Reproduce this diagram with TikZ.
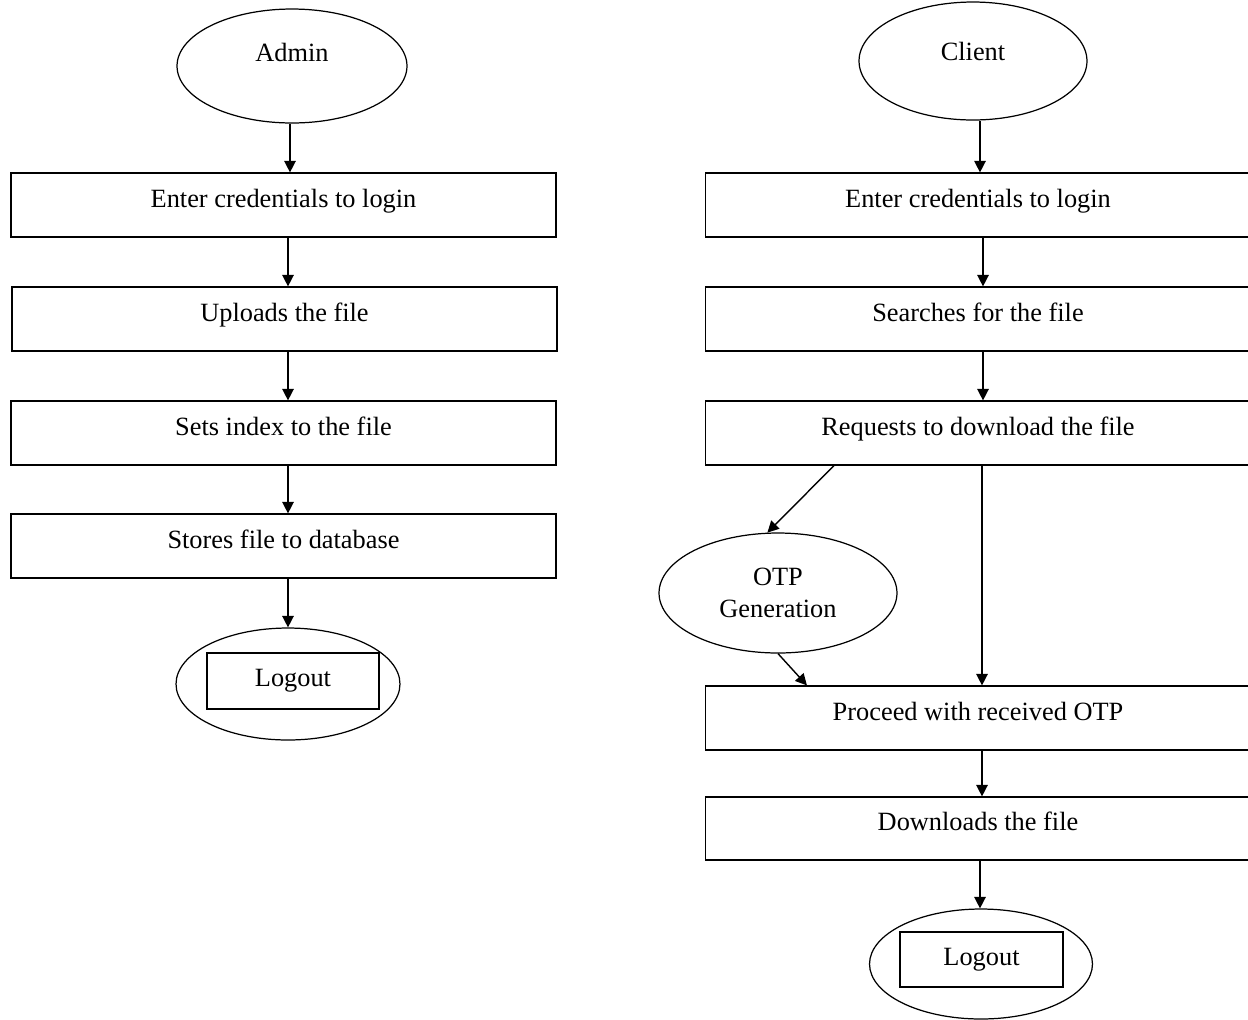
\documentclass[tikz,border=0pt]{standalone}
\usepackage{fontspec}
\setmainfont{Liberation Serif}
\usetikzlibrary{shapes.geometric,arrows.meta,calc}
\begin{document}
\begin{tikzpicture}[x=0.02cm,y=-0.02cm,
  every node/.style={font=\fontsize{15}{18}\selectfont, line width=0.7pt},
  stepbox/.style={draw, rectangle, minimum width=10.9cm, minimum height=1.28cm, inner sep=0pt, text height=14.7pt, text depth=12.3pt},
  ell/.style={draw, ellipse, inner sep=0pt, align=center},
  logbox/.style={draw, rectangle, inner sep=0pt, text height=16.9pt, text depth=10.1pt},
  arr/.style={-{Triangle[length=6.5pt,width=6.5pt]}, line width=0.8pt}]
\useasboundingbox (0,0) rectangle (1248,1019);
\clip (0,0) rectangle (1248,1019);
\fill[white] (0,0) rectangle (1248,1019);
% left column
\node[ell, minimum width=4.6cm, minimum height=2.28cm, text height=9pt, text depth=14pt] (admin) at (292,66) {Admin};
\node[stepbox] (b1) at (283.5,205) {Enter credentials to login};
\node[stepbox] (b2) at (284.5,319) {Uploads the file};
\node[stepbox] (b3) at (283.5,433) {Sets index to the file};
\node[stepbox] (b4) at (283.5,546) {Stores file to database};
\node[ell, minimum width=4.48cm, minimum height=2.24cm] (lo1) at (288,684) {};
\node[logbox, minimum width=3.44cm, minimum height=1.12cm] (lo1t) at (293,681) {Logout};
\coordinate (lx) at (288,0);
\draw[arr] (admin.south -| 290,0) -- (b1.north -| 290,0);
\draw[arr] (b1.south -| lx) -- (b2.north -| lx);
\draw[arr] (b2.south -| lx) -- (b3.north -| lx);
\draw[arr] (b3.south -| lx) -- (b4.north -| lx);
\draw[arr] (b4.south -| lx) -- (lo1.north -| lx);
% right column
\node[ell, minimum width=4.56cm, minimum height=2.36cm, text height=8pt, text depth=9pt] (client) at (973,61) {Client};
\node[stepbox] (r1) at (978,205) {Enter credentials to login};
\node[stepbox] (r2) at (978,319) {Searches for the file};
\node[stepbox] (r3) at (978,433) {Requests to download the file};
\node[ell, minimum width=4.76cm, minimum height=2.4cm] (otp) at (778,593) {OTP\\Generation};
\node[stepbox] (r4) at (978,718) {Proceed with received OTP};
\node[stepbox, minimum height=1.26cm] (r5) at (978,828.5) {Downloads the file};
\node[ell, minimum width=4.46cm, minimum height=2.2cm] (lo2) at (981,964) {};
\node[logbox, minimum width=3.26cm, minimum height=1.1cm] (lo2t) at (981.5,959.5) {Logout};
\coordinate (rx) at (982,0);
\draw[arr] (client.south -| 980,0) -- (r1.north -| 980,0);
\draw[arr] (r1.south -| 983,0) -- (r2.north -| 983,0);
\draw[arr] (r2.south -| 983,0) -- (r3.north -| 983,0);
\draw[arr] ($(r3.south west)+(129,0)$) -- (otp.100);
\draw[arr] (otp.south) -- ($(r4.north west)+(102,0)$);
\draw[arr] (r3.south -| rx) -- (r4.north -| rx);
\draw[arr] (r4.south -| rx) -- (r5.north -| rx);
\draw[arr] (r5.south -| 980,0) -- (lo2.north -| 980,0);
\end{tikzpicture}
\end{document}
